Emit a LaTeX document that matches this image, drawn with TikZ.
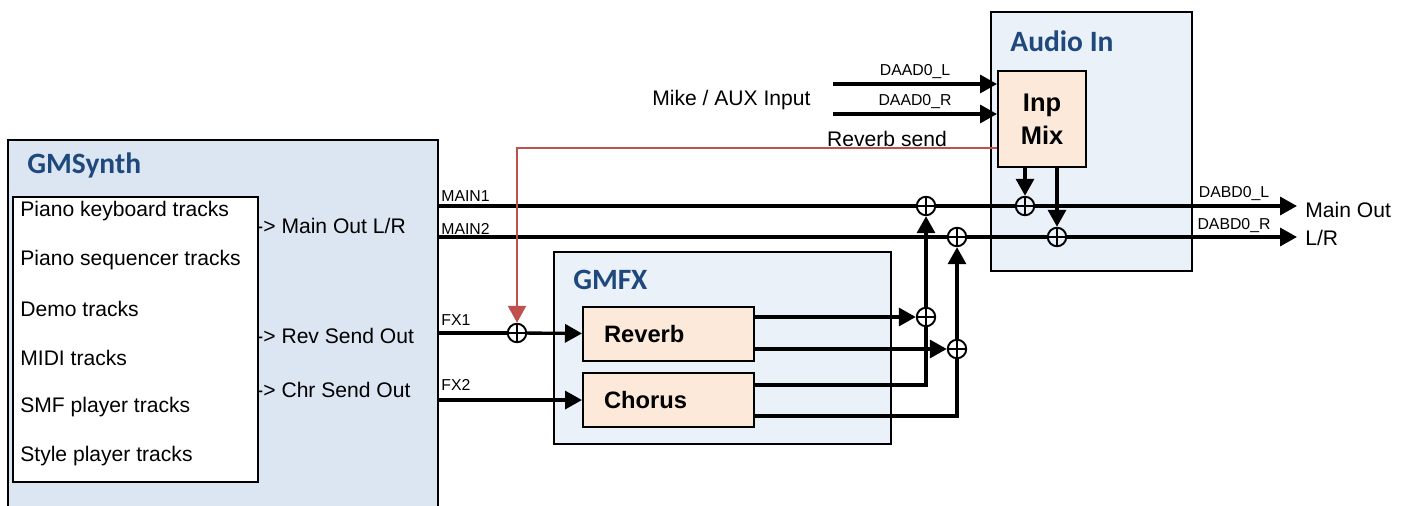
\documentclass[tikz,border=0pt]{standalone}
\usepackage{fontspec}
\setmainfont{Liberation Sans}
\newfontfamily\carlito{Carlito}
\usetikzlibrary{arrows.meta,positioning,calc}
\definecolor{synthbg}{RGB}{220,230,242}
\definecolor{fxbg}{RGB}{235,241,248}
\definecolor{blkbg}{RGB}{253,233,217}
\definecolor{ttlblue}{RGB}{31,73,125}
\definecolor{sendred}{RGB}{192,80,77}

\begin{document}
\begin{tikzpicture}[x=0.02cm,y=-0.02cm,>={Triangle[length=0.34cm,width=0.36cm]},
    grp/.style={draw,line width=1.1pt,anchor=north west,inner sep=0},
    fxblk/.style={draw,line width=1.2pt,fill=blkbg,anchor=north west,minimum width=3.42cm,minimum height=1.08cm,text width=2.58cm,inner xsep=0.42cm,align=left,font=\fontsize{13.5}{16}\selectfont\bfseries},
    ttl/.style={anchor=west,inner sep=0,text=ttlblue,font=\carlito\fontsize{16.8}{20}\selectfont\bfseries},
    txt/.style={anchor=west,inner sep=0,font=\fontsize{12}{14}\selectfont},
    tag/.style={inner sep=0,font=\fontsize{9}{10}\selectfont},
    sum/.style={draw,circle,line width=1.1pt,minimum size=0.37cm,inner sep=0,path picture={\draw[line width=1.1pt] (path picture bounding box.north)--(path picture bounding box.south) (path picture bounding box.west)--(path picture bounding box.east);}},
    sig/.style={line width=1.9pt},
    send/.style={draw=sendred,line width=1.3pt}]
    \clip (0,0) rectangle (1410,506);

    % groups
    \node[grp,fill=synthbg,minimum width=8.6cm,minimum height=7.6cm] (synth) at (7,139) {};
    \node[ttl] (synthT) at (27,165) {GMSynth};
    \node[grp,fill=white,minimum width=4.9cm,minimum height=5.7cm] (tracks) at (12,196) {};
    \node[txt] (t1) at (20,211) {Piano keyboard tracks};
    \node[txt] (t2) at (20,260) {Piano sequencer tracks};
    \node[txt] (t3) at (20,309) {Demo tracks};
    \node[txt] (t4) at (20,358) {MIDI tracks};
    \node[txt] (t5) at (20,407) {SMF player tracks};
    \node[txt] (t6) at (20,456) {Style player tracks};
    \node[txt] (oMain) at (256,226) {-> Main Out L/R};
    \node[txt] (oRev) at (256,336) {-> Rev Send Out};
    \node[txt] (oChr) at (256,390) {-> Chr Send Out};

    \node[grp,fill=fxbg,minimum width=6.74cm,minimum height=3.84cm] (gmfx) at (553,251) {};
    \node[ttl] (gmfxT) at (573,280) {GMFX};
    \node[fxblk] (rev) at (582,306) {Reverb};
    \node[fxblk] (chr) at (582,372) {Chorus};

    \node[grp,fill=fxbg,minimum width=4.02cm,minimum height=5.18cm] (audio) at (990,11) {};
    \node[ttl] (audioT) at (1010,41) {Audio In};
    \node[draw,line width=1.2pt,fill=blkbg,anchor=north west,minimum width=1.76cm,minimum height=1.92cm,align=center,font=\fontsize{14.5}{18.7}\selectfont\bfseries] (mix) at (997,70) {Inp\\Mix};

    % summing points
    \node[sum] (sM1) at (926,206) {};
    \node[sum] (sM2) at (957,237) {};
    \node[sum] (sRL) at (926,317) {};
    \node[sum] (sRR) at (957,349) {};
    \node[sum] (sL) at (1025,206) {};
    \node[sum] (sR) at (1057,237) {};
    \node[sum] (sFX) at (517,333) {};

    % texts
    \node[tag,anchor=west] (lM1) at (441,196) {MAIN1};
    \node[tag,anchor=west] (lM2) at (441,229) {MAIN2};
    \node[tag,anchor=west] (lF1) at (441,320) {FX1};
    \node[tag,anchor=west] (lF2) at (441,385) {FX2};
    \node[tag] (lOL) at (1234,194) {DABD0\_L};
    \node[tag] (lOR) at (1234,226) {DABD0\_R};
    \node[txt] (outL) at (1305,210) {Main Out};
    \node[txt] (outR) at (1305,238) {L/R};
    \node[txt] (mike) at (652,100) {Mike / AUX Input};
    \node[txt,anchor=center] (rsend) at (887,139) {Reverb send};
    \coordinate (inL) at (833,84);
    \coordinate (inR) at (833,114);

    % main outs
    \draw[sig] (synth.east |- sM1) -- (sM1) -- (sL);
    \draw[sig,->,shorten >=0.16cm] (sL) -- (sL -| outL.west);
    \draw[sig] (synth.east |- sM2) -- (sM2) -- (sR);
    \draw[sig,->,shorten >=0.16cm] (sR) -- (sR -| outR.west);

    % effects
    \draw[sig] (synth.east |- sFX) -- (sFX);
    \draw[sig,->] (sFX) -- (rev);
    \draw[sig,->] (synth.east |- chr) -- (chr);
    \draw[sig,->] (rev.east |- sRL) -- (sRL);
    \draw[sig,->] (rev.east |- sRR) -- (sRR);
    \draw[sig] (chr.east |- 0,385) -| (sRL);
    \draw[sig] (chr.east |- 0,416) -| (sRR);
    \draw[sig,->] (sRL) -- (sM1);
    \draw[sig,->] (sRR) -- (sM2);

    % audio in
    \draw[sig,->] (inL) -- (inL -| mix.west) node[tag,midway,above=0.08cm] {DAAD0\_L};
    \draw[sig,->] (inR) -- (inR -| mix.west) node[tag,midway,above=0.08cm] {DAAD0\_R};
    \draw[send,->] (mix.west |- 0,148) -| (sFX);
    \draw[sig,->] (mix.south -| sL) -- (sL);
    \draw[sig,->] (mix.south -| sR) -- (sR);
\end{tikzpicture}
\end{document}
